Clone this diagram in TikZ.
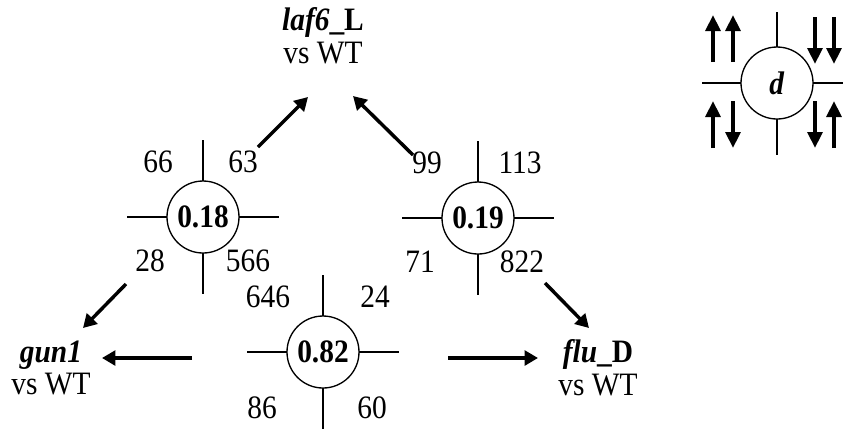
\documentclass[tikz,border=0pt]{standalone}
\usepackage{fontspec}
\setmainfont{Liberation Serif}[FakeStretch=0.9]
\usetikzlibrary{arrows.meta}
\begin{document}
\begin{tikzpicture}[x=0.75pt,y=-0.75pt,
  every node/.style={font=\fontsize{24.5}{24.5}\selectfont, inner sep=0pt},
  ring/.style={circle, draw, line width=1pt, minimum size=54pt},
  crossline/.style={line width=1.1pt},
  bigarrow/.style={line width=2.6pt, -{Triangle[length=10pt,width=11pt]}},
  legarrow/.style={line width=3.2pt, -{Triangle[length=12pt,width=11pt]}}]
\useasboundingbox (0,0) rectangle (843,430);

% circles with crosses
\foreach \n/\x/\y/\t in {c18/203/217/0.18, c19/478/218/0.19, c82/323/352/0.82}{
  \draw[crossline] (\x-76,\y) -- (\x+76,\y) (\x,\y-77) -- (\x,\y+77);
  \node[ring, fill=white] (\n) at (\x,\y) {\textbf{\t}};
}
% legend
\draw[crossline] (702,83) -- (850,83) (777,12) -- (777,155);
\node[ring, fill=white] (cd) at (777,83) {\textbf{\textit{d}}};

% numbers
\node (n66) at (158,162) {66};
\node (n63) at (243,162) {63};
\node (n28) at (150,261) {28};
\node (n566) at (248,261) {566};
\node (n99) at (427,163) {99};
\node (n113) at (520,163) {113};
\node (n71) at (420,262) {71};
\node (n822) at (522,262) {822};
\node (n646) at (268,297) {646};
\node (n24) at (375,297) {24};
\node (n86) at (262,408) {86};
\node (n60) at (372,408) {60};

% labels
\node[align=center] (laf) at (323,36) {\textbf{\textit{laf6}\_L}\\vs WT};
\node[align=center] (gun) at (51,368) {\textbf{\textit{gun1}}\\vs WT};
\node[align=center] (flu) at (598,368) {\textbf{\textit{flu}\_D}\\vs WT};

% arrows
\coordinate (a1s) at (258,147); \coordinate (a1e) at (308,97);
\coordinate (a2s) at (413,155); \coordinate (a2e) at (353,96);
\coordinate (a3s) at (126,284); \coordinate (a3e) at (83,328);
\coordinate (a4s) at (192,358); \coordinate (a4e) at (102,358);
\coordinate (a5s) at (448,358); \coordinate (a5e) at (538,358);
\coordinate (a6s) at (545,283); \coordinate (a6e) at (589,328);
\draw[bigarrow] (a1s) -- (a1e);
\draw[bigarrow] (a2s) -- (a2e);
\draw[bigarrow] (a3s) -- (a3e);
\draw[bigarrow] (a4s) -- (a4e);
\draw[bigarrow] (a5s) -- (a5e);
\draw[bigarrow] (a6s) -- (a6e);

% legend arrows
\coordinate (u1b) at (713,62); \coordinate (u1t) at (713,15);
\coordinate (u2b) at (733,62); \coordinate (u2t) at (733,15);
\coordinate (d1t) at (815,17); \coordinate (d1b) at (815,64);
\coordinate (d2t) at (834,17); \coordinate (d2b) at (834,64);
\coordinate (l1b) at (713,148); \coordinate (l1t) at (713,101);
\coordinate (l2t) at (733,101); \coordinate (l2b) at (733,148);
\coordinate (r1t) at (815,101); \coordinate (r1b) at (815,148);
\coordinate (r2b) at (834,148); \coordinate (r2t) at (834,101);
\draw[legarrow] (u1b) -- (u1t);
\draw[legarrow] (u2b) -- (u2t);
\draw[legarrow] (d1t) -- (d1b);
\draw[legarrow] (d2t) -- (d2b);
\draw[legarrow] (l1b) -- (l1t);
\draw[legarrow] (l2t) -- (l2b);
\draw[legarrow] (r1t) -- (r1b);
\draw[legarrow] (r2b) -- (r2t);
\end{tikzpicture}
\end{document}
